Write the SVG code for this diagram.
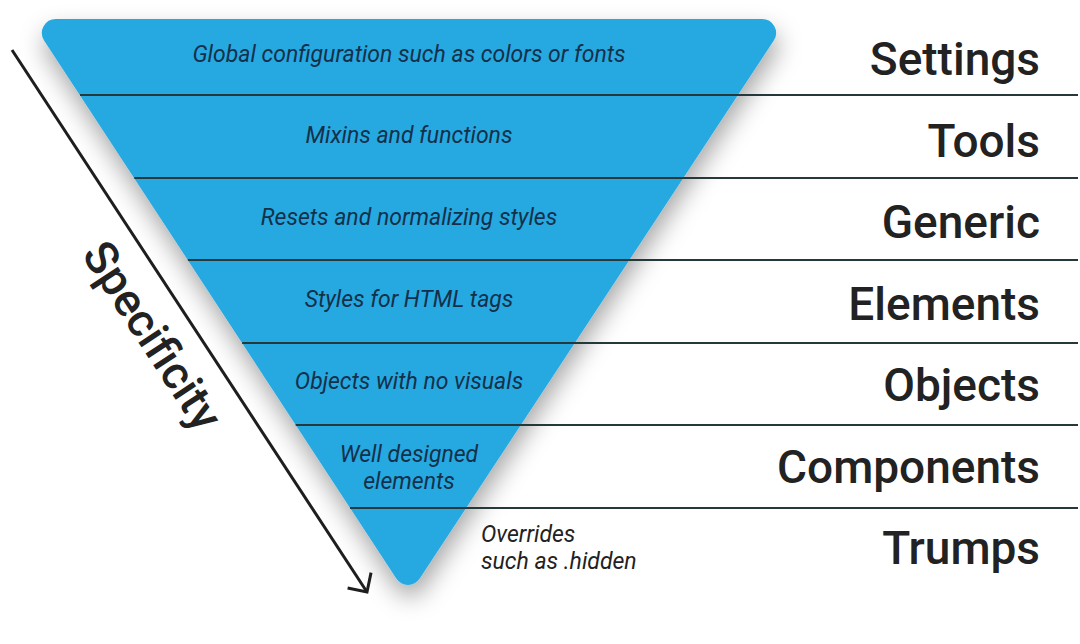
<svg xmlns="http://www.w3.org/2000/svg" width="1080" height="644" viewBox="0 0 1080 644">
<style>
.lbl{font-family:Roboto,"Liberation Sans",sans-serif;font-size:46px;font-weight:500;fill:#222;text-anchor:end}
.inner{font-family:Roboto,"Liberation Sans",sans-serif;font-size:23px;font-style:italic;fill:#15304a;text-anchor:middle}
.note{font-family:Roboto,"Liberation Sans",sans-serif;font-size:23px;font-style:italic;fill:#222}
.sep{stroke:#26393a;stroke-width:2;fill:none}
.arrow{stroke:#1e1e1e;stroke-width:3;fill:none}
</style>
<defs>
<filter id="sh" x="-20%" y="-20%" width="140%" height="140%">
<feDropShadow dx="2" dy="12" stdDeviation="12" flood-color="#000" flood-opacity="0.35"/>
</filter>
<marker id="chev" markerUnits="userSpaceOnUse" markerWidth="40" markerHeight="40" viewBox="-20 -20 40 40" refX="0" refY="0" orient="auto">
<path d="M-14,-14 L0,0 L-14,14" stroke="#1e1e1e" stroke-width="3" fill="none"/>
</marker>
</defs>
<rect width="1080" height="644" fill="#fff"/>
<g id="pyramid">
<path d="M55.9,19 L762.1,19 A14,14 0 0 1 773.8,40.6 L419.7,578.6 A14,14 0 0 1 396.3,578.6 L44.2,40.7 A14,14 0 0 1 55.9,19 Z" fill="#27a9e1" filter="url(#sh)"/>
</g>
<g id="connectors">
<line class="sep" x1="80" y1="95" x2="1078" y2="95"/>
<line class="sep" x1="134.3" y1="178" x2="1078" y2="178"/>
<line class="sep" x1="187.9" y1="260" x2="1078" y2="260"/>
<line class="sep" x1="242.1" y1="343" x2="1078" y2="343"/>
<line class="sep" x1="295.7" y1="425" x2="1078" y2="425"/>
<line class="sep" x1="350" y1="508" x2="1078" y2="508"/>
<line class="arrow" x1="12" y1="50" x2="367" y2="592" marker-end="url(#chev)"/>
</g>
<g id="settings"><text class="inner" x="409" y="62">Global configuration such as colors or fonts</text><text class="lbl" x="1040" y="75">Settings</text></g>
<g id="tools"><text class="inner" x="409" y="143">Mixins and functions</text><text class="lbl" x="1040" y="157">Tools</text></g>
<g id="generic"><text class="inner" x="409" y="225">Resets and normalizing styles</text><text class="lbl" x="1040" y="238">Generic</text></g>
<g id="elements"><text class="inner" x="409" y="307">Styles for HTML tags</text><text class="lbl" x="1040" y="320">Elements</text></g>
<g id="objects"><text class="inner" x="409" y="389">Objects with no visuals</text><text class="lbl" x="1040" y="401">Objects</text></g>
<g id="components"><text class="inner" x="409" y="462">Well designed</text><text class="inner" x="409" y="489">elements</text><text class="lbl" x="1040" y="483">Components</text></g>
<g id="trumps"><text class="note" x="481" y="542">Overrides</text><text class="note" x="481" y="569">such as .hidden</text><text class="lbl" x="1040" y="564">Trumps</text></g>
<g id="specificity"><text transform="translate(152,336) rotate(56.8)" y="15" font-family="Roboto, 'Liberation Sans', sans-serif" font-size="46" font-weight="500" fill="#222" text-anchor="middle">Specificity</text></g>
</svg>
